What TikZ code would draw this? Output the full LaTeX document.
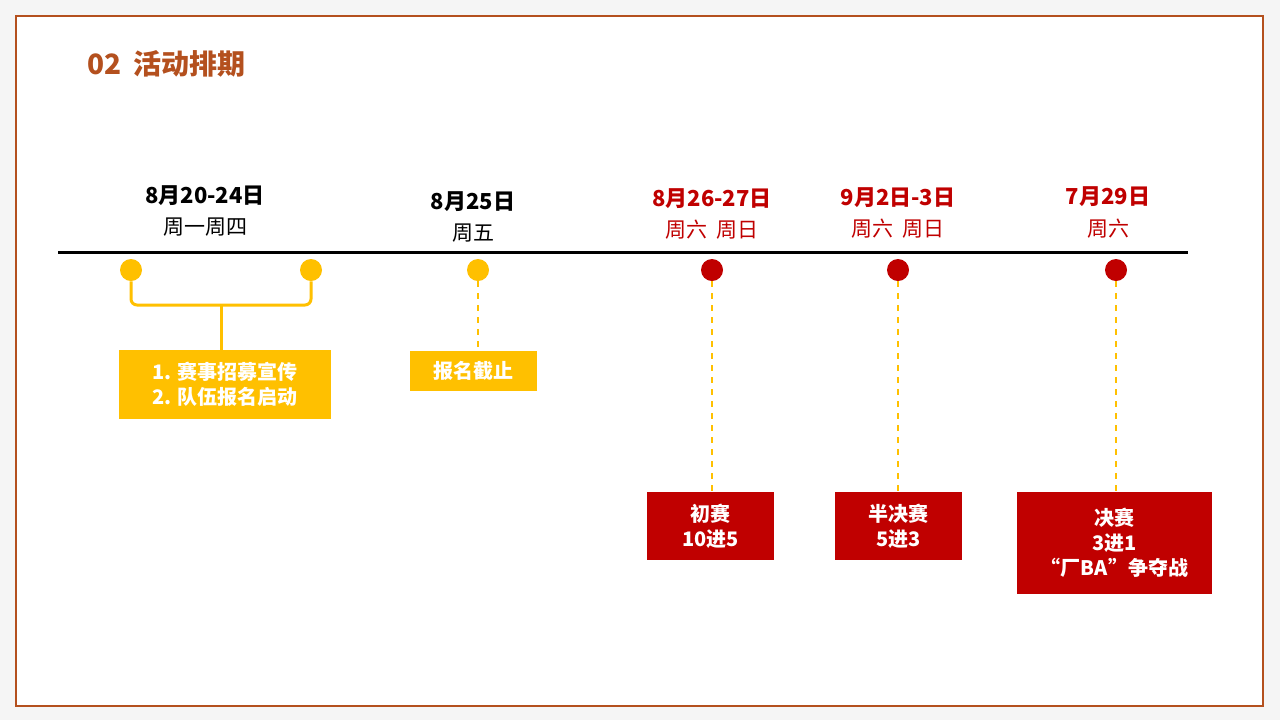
\documentclass[tikz,border=0pt]{standalone}
\usepackage{fontspec}
\setmainfont{Noto Sans CJK SC}
\usetikzlibrary{positioning}
\definecolor{gold}{HTML}{FFC000}
\definecolor{crimson}{HTML}{C00000}
\definecolor{rust}{HTML}{B4501E}
\tikzstyle{dot} = [circle, minimum size=11pt, inner sep=0pt]
\tikzstyle{box} = [rectangle, text=white, font=\bfseries\fontsize{10}{12.5}\selectfont, align=center, inner sep=0pt]
\tikzstyle{date} = [font=\bfseries\fontsize{11}{13}\selectfont]
\tikzstyle{day} = [font=\fontsize{10.5}{12}\selectfont]
\tikzstyle{link} = [gold, dashed, line width=1.2pt]
\begin{document}
\begin{tikzpicture}[x=0.5pt, y=-0.5pt]
  % background and frame
  \fill[gray!8] (0,0) rectangle (1280,720);
  \fill[white, draw=rust, line width=0.8pt] (16,16) rectangle (1263,706);
  \node[anchor=west, text=rust, font=\bfseries\fontsize{14}{16}\selectfont] (title) at (80,64) {02\ \ 活动排期};

  % time line
  \coordinate (lineL) at (58,252);
  \coordinate (lineR) at (1188,252);
  \draw[line width=1.5pt] (lineL) -- (lineR);

  % dots
  \node [dot, fill=gold]     (d1) at (131,270) {};
  \node [dot, fill=gold]     (d2) at (311,270) {};
  \node [dot, fill=gold]     (d3) at (478,270) {};
  \node [dot, fill=crimson]  (d4) at (712,270) {};
  \node [dot, fill=crimson]  (d5) at (898,270) {};
  \node [dot, fill=crimson]  (d6) at (1116,270) {};

  % dates
  \node [date]                  (t1) at (205,196) {8月20-24日};
  \node [day]                   (w1) at (205,227) {周一周四};
  \node [date]                  (t2) at (473,202) {8月25日};
  \node [day]                   (w2) at (473,233) {周五};
  \node [date, text=crimson]    (t4) at (712,199) {8月26-27日};
  \node [day, text=crimson]     (w4) at (712,230) {周六\ \ 周日};
  \node [date, text=crimson]    (t5) at (898,198) {9月2日-3日};
  \node [day, text=crimson]     (w5) at (898,229) {周六\ \ 周日};
  \node [date, text=crimson]    (t6) at (1108,197) {7月29日};
  \node [day, text=crimson]     (w6) at (1108,229) {周六};

  % boxes
  \node [box, fill=gold, minimum width=106pt, minimum height=34.5pt]    (b1) at (225,384.5) {1. 赛事招募宣传\\2. 队伍报名启动};
  \node [box, fill=gold, minimum width=63.5pt, minimum height=20pt]     (b2) at (473.5,371) {报名截止};
  \node [box, fill=crimson, minimum width=63.5pt, minimum height=34pt]  (b4) at (710.5,526) {初赛\\10进5};
  \node [box, fill=crimson, minimum width=63.5pt, minimum height=34pt]  (b5) at (898.5,526) {半决赛\\5进3};
  \node [box, fill=crimson, minimum width=97.5pt, minimum height=51pt]  (b6) at (1114.5,543) {决赛\\3进1\\“厂BA”争夺战};

  % bracket
  \coordinate (mid) at (221,305);
  \draw[gold, line width=1.5pt, rounded corners=3pt] (d1.south) |- (mid) -| (d2.south);
  \draw[gold, line width=1.5pt] (mid) -- (mid |- b1.north);

  % dashed links
  \draw[link] (d3.south) -- (d3 |- b2.north);
  \draw[link] (d4.south) -- (d4 |- b4.north);
  \draw[link] (d5.south) -- (d5 |- b5.north);
  \draw[link] (d6.south) -- (d6 |- b6.north);
\end{tikzpicture}
\end{document}
